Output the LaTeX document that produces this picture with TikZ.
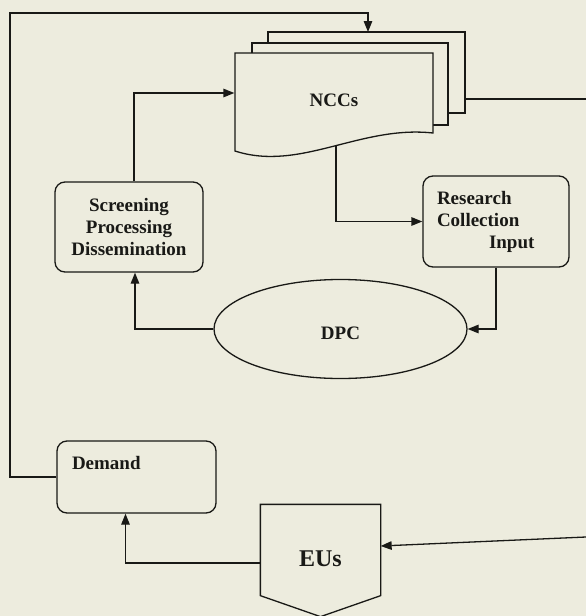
\documentclass[tikz,border=0pt]{standalone}
\usepackage{fontspec}
\setmainfont{Liberation Serif}
\usetikzlibrary{arrows.meta,shapes.geometric}
\definecolor{paper}{RGB}{237,236,222}
\definecolor{ink}{RGB}{25,25,22}
\begin{document}
\begin{tikzpicture}[x=1pt,y=-1pt, line width=1.3pt, color=ink,
  arr/.style={-{Triangle[length=11pt,width=8.5pt]}},
  lbl/.style={font=\fontsize{19}{22}\selectfont\bfseries, text=ink},
  rbox/.style={draw, rounded corners=10pt, fill=paper, lbl},
  layer/.style={draw, fill=paper}
]
\useasboundingbox[fill=paper] (0,0) rectangle (586,616);

% NCCs stacked documents
\draw[layer] (268,32) rectangle (465,113);
\draw[layer] (252,43) rectangle (448,125);
\draw[layer] (433,133) .. controls (360,125) and (300,172) .. (235,151) -- (235,53) -- (433,53) -- cycle;
\node[lbl, minimum width=198pt, minimum height=80pt, text height=26pt, text depth=0pt] (ncc) at (334,93) {NCCs};
\coordinate (nccT) at (368,32);
\coordinate (nccB) at (336,146);
\coordinate (nccR) at (465,99);
\coordinate (outR) at (586,99);
\coordinate (inR) at (586,537);
\coordinate (c1) at (10,13);

\node[rbox, minimum width=148pt, minimum height=90pt, align=center] (spd) at (129,227) {Screening\\Processing\\Dissemination};
\node[rbox, minimum height=91pt, text width=118pt, inner xsep=14pt, align=left] (rci) at (496,221.5) {Research\\Collection\\\hspace*{52pt}Input};
\node[lbl, draw, ellipse, fill=paper, minimum width=253pt, minimum height=99pt, inner sep=0pt, text height=20pt, text depth=0pt] (dpc) at (340.5,329) {DPC};
\node[rbox, minimum height=72pt, text width=129pt, inner xsep=15pt, align=left, text height=12pt, text depth=28pt] (dem) at (136.5,477) {Demand};

\node[lbl, font=\fontsize{24}{28}\selectfont\bfseries, minimum width=119pt, minimum height=90pt, text height=32pt, text depth=0pt] (eus) at (320.5,550) {EUs};
\draw (eus.north west) -- (eus.north east) -- (eus.south east) -- ([yshift=-21pt]eus.south) -- (eus.south west) -- cycle;

% connectors
\draw[arr] (dem.west) -| (c1) -| (nccT);
\draw (nccR) -- (outR);
\draw[arr] ([xshift=5pt]spd.north) |- (ncc.west);
\draw[arr] (nccB) |- (rci.west);
\draw[arr] (rci.south) |- (dpc.east);
\draw[arr] (dpc.west) -| ([xshift=6pt]spd.south);
\draw[arr] ([yshift=-13pt]eus.west) -| ([xshift=-11pt]dem.south);
\draw[arr] (inR) -- ([yshift=4pt]eus.east);
\end{tikzpicture}
\end{document}
